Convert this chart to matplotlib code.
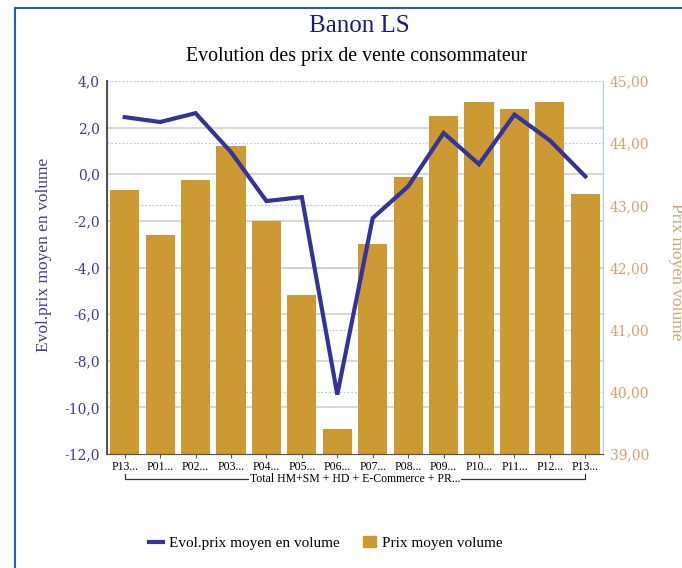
import matplotlib.pyplot as plt
import matplotlib.transforms as mtransforms
from matplotlib.patches import Rectangle

periods = ['P13...', 'P01...', 'P02...', 'P03...', 'P04...', 'P05...', 'P06...',
           'P07...', 'P08...', 'P09...', 'P10...', 'P11...', 'P12...', 'P13...']
evol = [2.45, 2.24, 2.62, 0.95, -1.15, -0.98, -9.45,
        -1.88, -0.52, 1.77, 0.43, 2.56, 1.45, -0.09]
prix = [43.24, 42.52, 43.40, 43.95, 42.74, 41.56, 39.40,
        42.37, 43.45, 44.43, 44.67, 44.55, 44.67, 43.19]
left_ticks = [4, 2, 0, -2, -4, -6, -8, -10, -12]
right_ticks = [45, 44, 43, 42, 41, 40, 39]
group_label = 'Total HM+SM + HD + E-Commerce + PR...'

plt.rcParams['font.family'] = ['Liberation Serif', 'DejaVu Serif']

LINE = '#333399'
BAR = '#CC9933'
LCOL = '#3c3c9c'
RCOL = '#d4a270'

fig = plt.figure(figsize=(6.82, 5.68), dpi=100)
W, H = 682, 568

# outer frame (partly cut off)
fig.patches.append(Rectangle((15 / W, -0.05), 1.2, (568 - 8) / H + 0.05,
                             transform=fig.transFigure, fill=False,
                             edgecolor='#2a5caa', linewidth=1.5))

fig.text(359 / W, 1 - 26 / H, 'Banon LS', ha='center', va='center',
         fontsize=18, color='#1a1a80')
fig.text(357 / W, 1 - 57 / H, 'Evolution des prix de vente consommateur',
         ha='center', va='center', fontsize=14.3, color='black')

ax2 = fig.add_axes([107 / W, 1 - 454 / H, 496 / W, 373 / H])
ax = ax2.twinx()
ax.yaxis.tick_left()
ax.yaxis.set_label_position('left')
ax2.yaxis.tick_right()
ax2.yaxis.set_label_position('right')
ax.set_zorder(ax2.get_zorder() + 1)
ax.patch.set_visible(False)

x = list(range(len(periods)))
ax2.set_ylim(39, 45)
ax.set_ylim(-12, 4)
ax2.set_xlim(-0.5, len(periods) - 0.5)

# grid lines behind bars
blend = mtransforms.blended_transform_factory(ax2.transAxes, ax.transData)
for v in left_ticks[1:-1]:
    ax2.plot([0, 1], [v, v], transform=blend, color='#d0d0d0', lw=1.2, zorder=0.5)
for v in right_ticks[:-1]:
    ax2.axhline(v, color='#a8d0f0', lw=0.9, ls=(0, (1.5, 1.5)), zorder=0.6)

ax2.bar(x, [p - 39 for p in prix], bottom=39, width=0.82, color=BAR, zorder=1)
ax.plot(x, evol, color=LINE, lw=3, zorder=3, solid_joinstyle='miter')

ax.set_yticks(left_ticks)
ax.set_yticklabels([('%.1f' % v).replace('.', ',') for v in left_ticks],
                   family='DejaVu Serif', fontsize=10)
ax2.set_yticks(right_ticks)
ax2.set_yticklabels([('%.2f' % v).replace('.', ',') for v in right_ticks],
                    family='DejaVu Serif', fontsize=10)
ax.tick_params(axis='y', colors=LCOL, length=0, pad=5)
ax2.tick_params(axis='y', colors=RCOL, length=0, pad=5)
for lab in ax.get_yticklabels():
    lab.set_color(LCOL)
for lab in ax2.get_yticklabels():
    lab.set_color(RCOL)

ax2.set_xticks(x)
ax2.set_xticklabels(periods, fontsize=8.5)
ax2.tick_params(axis='x', length=3, color='#555555', pad=2)

ax.set_ylabel('Evol.prix moyen en volume', color=LCOL, fontsize=12.5)
ax.yaxis.set_label_coords(-55 / 496, (454 - 255) / 373)
ax2.set_ylabel('Prix moyen volume', color=RCOL, fontsize=12.5, rotation=270,
               va='center')
ax2.yaxis.set_label_coords((676 - 107) / 496, (454 - 272) / 373)

for a in (ax, ax2):
    a.spines['top'].set_visible(False)
    a.spines['left'].set_color('#555555')
    a.spines['bottom'].set_color('#555555')
    a.spines['right'].set_color('#a8d0f0')
ax2.spines['left'].set_linewidth(1.5)

# category group bracket
bt = mtransforms.blended_transform_factory(ax2.transData, ax2.transAxes)
yb = -0.066
ax2.plot([0, 0, 13, 13], [yb + 0.013, yb, yb, yb + 0.013], transform=bt,
         color='#333333', lw=0.9, clip_on=False)
ax2.text(6.5, yb, group_label, transform=bt, ha='center', va='center',
         fontsize=8.5, bbox=dict(facecolor='white', edgecolor='none', pad=0.3))

h1, = ax.plot([], [], color=LINE, lw=3)
h2 = Rectangle((0, 0), 1, 1, color=BAR)
fig.legend([h1, h2], ['Evol.prix moyen en volume', 'Prix moyen volume'],
           loc='center', bbox_to_anchor=(326 / W, 1 - 543 / H), ncol=2,
           frameon=False, fontsize=11, handlelength=0.9, columnspacing=1.5,
           handletextpad=0.4)

fig.savefig('out.png', dpi=100)
